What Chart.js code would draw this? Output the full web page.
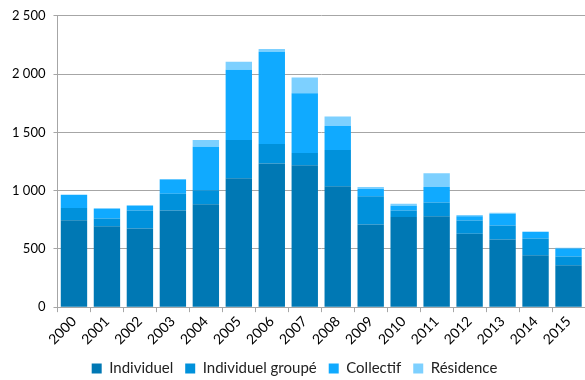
<!DOCTYPE html>
<html>
<head>
<meta charset="utf-8">
<script src="https://cdn.jsdelivr.net/npm/chart.js@4"></script>
<style>
  html, body { margin: 0; padding: 0; background: #fff; }
  #wrap { width: 585px; height: 380px; }
</style>
</head>
<body>
<div id="wrap"><canvas id="chart" width="585" height="380"></canvas></div>
<script>
// years on the x axis
const years = ['2000', '2001', '2002', '2003', '2004', '2005', '2006', '2007',
               '2008', '2009', '2010', '2011', '2012', '2013', '2014', '2015'];

// stacked values per housing type
const individuel = [745, 695, 675, 830, 882, 1106, 1233, 1218, 1037, 710, 773, 779, 629, 580, 445, 359];
const individuelGroupe = [105, 66, 155, 144, 121, 328, 166, 104, 311, 241, 57, 120, 115, 121, 144, 75];
const collectif = [115, 86, 43, 121, 373, 603, 793, 514, 206, 63, 41, 133, 35, 101, 55, 69];
const residence = [0, 0, 0, 5, 58, 69, 23, 135, 81, 18, 17, 117, 11, 8, 6, 7];

const yTicks = [0, 500, 1000, 1500, 2000, 2500];

const font = "Lato, 'Open Sans', sans-serif";

function makeSet(label, data, color) {
    return {
        label: label,
        data: data,
        backgroundColor: color,
        borderWidth: 0,
        barPercentage: 0.8,
        categoryPercentage: 1.0
    };
}

// pull the legend a bit lower, closer to the bottom edge
const lowerLegend = {
    id: 'lowerLegend',
    beforeInit(chart) {
        const legend = chart.legend;
        const fit = legend.fit;
        legend.fit = function () {
            fit.call(this);
            this.height -= 6;
        };
    }
};

const ctx = document.getElementById('chart').getContext('2d');
new Chart(ctx, {
    type: 'bar',
    data: {
        labels: years,
        datasets: [
            makeSet('Individuel', individuel, '#0078b4'),
            makeSet('Individuel groupé', individuelGroupe, '#0091db'),
            makeSet('Collectif', collectif, '#10aaff'),
            makeSet('Résidence', residence, '#7dd0ff')
        ]
    },
    plugins: [lowerLegend],
    options: {
        responsive: false,
        animation: false,
        layout: { padding: { top: 9, right: 0, left: 4, bottom: 0 } },
        plugins: {
            tooltip: { enabled: false },
            legend: {
                position: 'bottom',
                labels: {
                    boxWidth: 10,
                    boxHeight: 10,
                    padding: 12,
                    color: '#222',
                    font: { family: font, size: 15 }
                }
            }
        },
        scales: {
            x: {
                stacked: true,
                grid: {
                    display: true,
                    drawOnChartArea: false,
                    drawTicks: true,
                    tickLength: 5,
                    color: '#a6a6a6'
                },
                border: { color: '#a6a6a6' },
                ticks: {
                    minRotation: 45,
                    maxRotation: 45,
                    color: '#000',
                    padding: 1,
                    font: { family: font, size: 14 }
                }
            },
            y: {
                stacked: true,
                min: 0,
                max: 2500,
                afterBuildTicks: function (axis) {
                    axis.ticks = yTicks.map(v => ({ value: v }));
                },
                grid: {
                    color: '#a6a6a6',
                    tickLength: 4
                },
                border: { color: '#a6a6a6' },
                ticks: {
                    color: '#000',
                    padding: 8,
                    font: { family: font, size: 13 },
                    callback: function (value) {
                        return String(value).replace(/\B(?=(\d{3})+(?!\d))/g, ' ');
                    }
                }
            }
        }
    }
});
</script>
</body>
</html>
